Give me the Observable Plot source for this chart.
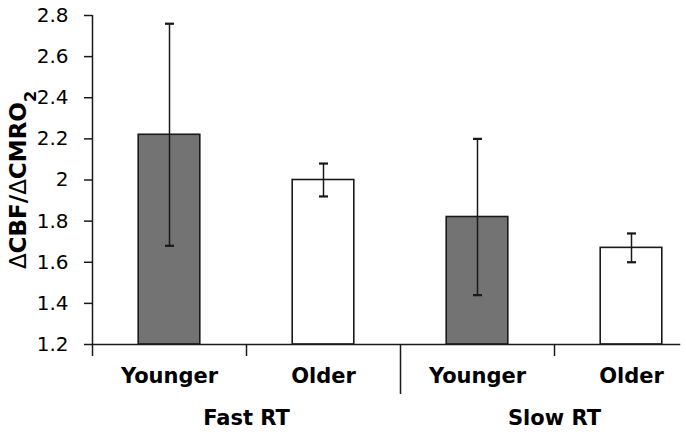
<!DOCTYPE html>
<html>
<head>
<meta charset="utf-8">
<script src="https://cdn.jsdelivr.net/npm/d3@7"></script>
<script src="https://cdn.jsdelivr.net/npm/@observablehq/plot@0.6"></script>
<style>
  html, body { margin: 0; padding: 0; background: white; }
</style>
</head>
<body>
<div id="chart"></div>
<script>
// ---- data ----
const groups = ["Fast RT", "Fast RT", "Slow RT", "Slow RT"];
const ages = ["Younger", "Older", "Younger", "Older"];
const means = [2.22, 2.00, 1.82, 1.67];
const errors = [0.54, 0.08, 0.38, 0.07];
const yTicks = [1.2, 1.4, 1.6, 1.8, 2.0, 2.2, 2.4, 2.6, 2.8];
const yLabelParts = [["Δ", "normal"], ["CBF/", "bold"], ["Δ", "normal"], ["CMRO", "bold"], ["2", "sub"]];
const yLabel = yLabelParts.map(p => p[0]).join("");
const ageFill = {Younger: "#737373", Older: "#ffffff"};

const rows = ages.map((age, i) => ({i, age, group: groups[i], mean: means[i], err: errors[i]}));
const groupRows = d3.groups(rows, d => d.group).map(([g, rs]) => ({group: g, pos: d3.mean(rs, r => r.i + 0.5)}));

const ink = "#1a1a1a";

const chart = Plot.plot({
  width: 686,
  height: 434,
  marginLeft: 92,
  marginRight: -22,
  marginTop: 15,
  marginBottom: 90,
  style: {fontFamily: "DejaVu Sans", fontSize: "20px", color: "black", background: "white"},
  x: {domain: [0, 4], range: [92, 708], axis: null},
  y: {domain: [1.2, 2.8], range: [344, 15], axis: null},
  color: {type: "identity"},
  marks: [
    Plot.rectY(rows, {
      x1: d => d.i + 0.3, x2: d => d.i + 0.7, y1: 1.2, y2: "mean",
      fill: d => ageFill[d.age], stroke: ink, strokeWidth: 1.6
    }),
    Plot.link(rows, {
      x1: d => d.i + 0.5, x2: d => d.i + 0.5,
      y1: d => d.mean - d.err, y2: d => d.mean + d.err,
      stroke: ink, strokeWidth: 1.5, markerStart: "tick", markerEnd: "tick"
    }),
    Plot.ruleY([1.2], {x1: 0, x2: 3.82, stroke: ink, strokeWidth: 1.5}),
    Plot.ruleX([0], {y1: 1.2, y2: 2.8, stroke: ink, strokeWidth: 1.5}),
    Plot.axisY({
      ticks: yTicks, tickSize: 8, tickPadding: 16, label: null,
      tickFormat: d3.format(".1~f"), fontSize: 20, stroke: ink, strokeWidth: 1.5
    }),
    Plot.axisX({ticks: [0, 1, 3], tickSize: 12, tickFormat: () => "", label: null, stroke: ink, strokeWidth: 1.5}),
    Plot.axisX({ticks: [2], tickSize: 50, tickFormat: () => "", label: null, stroke: ink, strokeWidth: 1.5}),
    Plot.text(rows, {
      x: d => d.i + 0.5, frameAnchor: "bottom", text: "age", dy: 32,
      lineAnchor: "middle", fontWeight: "bold", fontSize: 21, fill: "black"
    }),
    Plot.text(groupRows, {
      x: "pos", frameAnchor: "bottom", text: "group", dy: 74,
      lineAnchor: "middle", fontWeight: "bold", fontSize: 21, fill: "black"
    }),
    Plot.text([yLabel], {
      x: 0, frameAnchor: "middle", text: d => d, rotate: -90, dx: -74,
      lineAnchor: "middle", fontWeight: "bold", fontSize: 23, fill: "black"
    })
  ]
});

document.getElementById("chart").appendChild(chart);

// style the axis label: thin deltas, subscript 2
d3.select(chart).selectAll("text").filter(function () { return this.textContent === yLabel; })
  .each(function () {
    const t = d3.select(this);
    t.text(null);
    for (const [s, kind] of yLabelParts) {
      const ts = t.append("tspan").text(s);
      if (kind === "normal") ts.attr("font-weight", "normal");
      if (kind === "sub") ts.attr("baseline-shift", "sub").attr("font-size", "70%");
    }
  });
</script>
</body>
</html>
